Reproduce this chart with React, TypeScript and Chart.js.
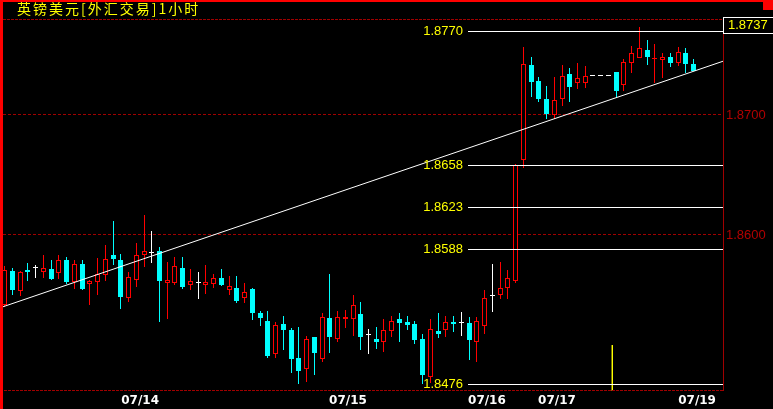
import React, { useEffect, useRef } from 'react';
import { Chart, registerables } from 'chart.js';

Chart.register(...registerables);

// ---------- data ----------
const titleText = '英镑美元[外汇交易]1小时';

const opens = [
  1.85417, 1.857, 1.85536, 1.85708, 1.85725, 1.85694, 1.85717, 1.85686, 1.85792, 1.85606,
  1.85758, 1.85588, 1.85611, 1.85664, 1.85833, 1.85792, 1.85473, 1.85623, 1.85831, 1.85848,
  1.85867, 1.85598, 1.85603, 1.85725, 1.85586, 1.856, 1.85586, 1.85594, 1.85642, 1.85544,
  1.85558, 1.85471, 1.8555, 1.8535, 1.85283, 1.85006, 1.85258, 1.85208, 1.84975, 1.84881,
  1.85148, 1.84969, 1.85306, 1.85131, 1.853, 1.85303, 1.85342, 1.85167, 1.85133, 1.85111,
  1.852, 1.85298, 1.85275, 1.85258, 1.85133, 1.84819, 1.852, 1.85206, 1.85278, 1.85267,
  1.85267, 1.85111, 1.85244, 1.85489, 1.85503, 1.85561, 1.85614, 1.86623, 1.87417, 1.87283,
  1.87133, 1.86998, 1.87131, 1.87342, 1.87264, 1.87269, 1.87323, 1.87323, 1.87323, 1.87358,
  1.8725, 1.87436, 1.87478, 1.87542, 1.87463, 1.87461, 1.87483, 1.87436, 1.87517, 1.87425,
];
const closes = [
  1.85708, 1.85542, 1.85692, 1.85692, 1.85725, 1.85722, 1.85633, 1.85792, 1.85606, 1.85756,
  1.8555, 1.85614, 1.85673, 1.858, 1.85796, 1.85486, 1.85648, 1.85831, 1.85864, 1.85848,
  1.85617, 1.85623, 1.85742, 1.85567, 1.85614, 1.856, 1.85608, 1.85642, 1.85583, 1.85575,
  1.8545, 1.85523, 1.8535, 1.85311, 1.84994, 1.8525, 1.85211, 1.84969, 1.84869, 1.85131,
  1.85019, 1.85314, 1.85153, 1.85314, 1.85317, 1.85417, 1.85153, 1.85167, 1.85111, 1.85206,
  1.85283, 1.85269, 1.85253, 1.85125, 1.84836, 1.85214, 1.85178, 1.85273, 1.85258, 1.85267,
  1.85128, 1.85283, 1.85478, 1.85489, 1.85558, 1.85642, 1.8658, 1.87425, 1.87278, 1.87136,
  1.87011, 1.87123, 1.87325, 1.87231, 1.87307, 1.87323, 1.87323, 1.87323, 1.87323, 1.87203,
  1.87442, 1.87514, 1.87556, 1.87483, 1.87475, 1.87483, 1.87436, 1.87525, 1.87425, 1.8737,
];
const highs = [
  1.85742, 1.85725, 1.857, 1.85767, 1.8575, 1.85833, 1.85792, 1.85833, 1.85817, 1.85792,
  1.85792, 1.85621, 1.85808, 1.85917, 1.86117, 1.85842, 1.85692, 1.85933, 1.86167, 1.86033,
  1.859, 1.85775, 1.85817, 1.85817, 1.85717, 1.85692, 1.8575, 1.85675, 1.85717, 1.85658,
  1.85658, 1.856, 1.85558, 1.85367, 1.85367, 1.85275, 1.85325, 1.85225, 1.85233, 1.85158,
  1.85148, 1.85348, 1.85675, 1.85367, 1.85373, 1.855, 1.85442, 1.85217, 1.85233, 1.853,
  1.85325, 1.8535, 1.85325, 1.85283, 1.85175, 1.853, 1.8535, 1.85325, 1.85325, 1.85358,
  1.85317, 1.85317, 1.85542, 1.85758, 1.85775, 1.85708, 1.86595, 1.87569, 1.87483, 1.87317,
  1.87242, 1.87317, 1.87417, 1.87392, 1.87433, 1.87408, 1.87323, 1.87323, 1.87323, 1.87358,
  1.87467, 1.87575, 1.87731, 1.87625, 1.87592, 1.87517, 1.87517, 1.87567, 1.87558, 1.87467,
];
const lows = [
  1.85396, 1.855, 1.85494, 1.85619, 1.85642, 1.85642, 1.85629, 1.85633, 1.85592, 1.8555,
  1.85542, 1.85419, 1.85503, 1.85619, 1.85754, 1.85386, 1.85444, 1.85569, 1.85736, 1.85769,
  1.85278, 1.853, 1.85586, 1.8555, 1.85544, 1.85469, 1.85511, 1.85558, 1.85575, 1.85496,
  1.85433, 1.85433, 1.85294, 1.85244, 1.84978, 1.84978, 1.85044, 1.84853, 1.8476, 1.84778,
  1.84836, 1.84944, 1.85019, 1.85108, 1.85225, 1.85161, 1.85042, 1.85008, 1.85048, 1.85028,
  1.85153, 1.85111, 1.85208, 1.85092, 1.84762, 1.84765, 1.85144, 1.85153, 1.85194, 1.85161,
  1.84958, 1.84944, 1.85178, 1.85361, 1.85464, 1.85469, 1.85603, 1.86556, 1.87148, 1.87108,
  1.86969, 1.86969, 1.87073, 1.87111, 1.87213, 1.87228, 1.87323, 1.87323, 1.87323, 1.87139,
  1.87203, 1.87353, 1.87475, 1.87417, 1.87264, 1.87306, 1.87403, 1.87411, 1.87348, 1.87368,
];

const dateLabels = ['07/14', '07/15', '07/16', '07/17', '07/19'];
const datePositions = [17.5, 44.35, 62.3, 71.35, 89.45];

const gridPrices = [1.86, 1.87];
const levelPrices = [1.877, 1.8658, 1.8623, 1.8588, 1.8476];

const trendX = [-0.22, 92.8];
const trendY = [1.85402, 1.87448];

const cursorX = [78.5, 78.5];
const cursorY = [1.85083, 1.847];

const xMin = -0.22;
const xMax = 92.8;
const yMin = 1.847;
const yMax = 1.878;

// ---------- styles ----------
const UP = '#ff0000';
const DOWN = '#00ffff';
const FLAT = '#ffffff';
const DARK_RED = '#a00000';
const NUM_FONT = '"Liberation Sans Narrow", "Liberation Sans", sans-serif';

export default function App() {
  const ref = useRef<HTMLCanvasElement>(null);

  useEffect(() => {
    document.body.style.margin = '0';
    document.body.style.background = '#000';
    const canvas = ref.current!;
    const idx = opens.map((_, i) => i);
    const colors = idx.map((i) =>
      closes[i] > opens[i] ? UP : closes[i] < opens[i] ? DOWN : FLAT
    );

    const decor = {
      id: 'decor',
      beforeDraw(chart: any) {
        const ctx = chart.ctx;
        ctx.save();
        ctx.fillStyle = '#000';
        ctx.fillRect(0, 0, chart.width, chart.height);
        ctx.restore();
      },
      beforeDatasetsDraw(chart: any) {
        chart.data.datasets.forEach((ds: any, di: number) => {
          if (ds.type !== 'bar') return;
          const meta = chart.getDatasetMeta(di);
          meta.data.forEach((el: any) => {
            el.x = Math.floor(el.x) + 0.5;
            const y = Math.round(el.y);
            let b = Math.round(el.base);
            if (y === b) b = y + 1;
            el.y = y;
            el.base = b;
          });
        });
      },
      afterDatasetsDraw(chart: any) {
        const ctx = chart.ctx;
        const ys = chart.scales.y;
        const area = chart.chartArea;
        ctx.save();
        ctx.lineWidth = 1;
        ctx.strokeStyle = '#ffffff';
        ctx.fillStyle = '#ffff00';
        ctx.font = '13px ' + NUM_FONT;
        ctx.textAlign = 'right';
        ctx.textBaseline = 'middle';
        levelPrices.forEach((p) => {
          const py = Math.round(ys.getPixelForValue(p)) + 0.5;
          ctx.beginPath();
          ctx.moveTo(468, py);
          ctx.lineTo(area.right, py);
          ctx.stroke();
          ctx.fillText(p.toFixed(4), 463, py);
        });
        ctx.restore();
      },
      afterDraw(chart: any) {
        const ctx = chart.ctx;
        const area = chart.chartArea;
        const W = chart.width;
        ctx.save();
        // plot frame (dark red)
        ctx.strokeStyle = DARK_RED;
        ctx.lineWidth = 1;
        ctx.setLineDash([3, 1]);
        ctx.beginPath();
        ctx.moveTo(area.left, area.top + 0.5);
        ctx.lineTo(area.right, area.top + 0.5);
        ctx.moveTo(0, area.bottom - 0.5);
        ctx.lineTo(area.right, area.bottom - 0.5);
        ctx.stroke();
        ctx.setLineDash([]);
        ctx.beginPath();
        ctx.moveTo(area.right + 0.5, area.top);
        ctx.lineTo(area.right + 0.5, area.bottom);
        ctx.stroke();

        // bright red outer frame
        ctx.fillStyle = '#ff0000';
        ctx.fillRect(0, 0, W, 2);
        ctx.fillRect(0, 0, 3, chart.height);
        ctx.fillRect(W - 10, 0, 10, 10);

        // title
        ctx.fillStyle = '#ffff00';
        ctx.font = '14px "Noto Sans CJK SC", sans-serif';
        (ctx as any).letterSpacing = '2px';
        ctx.textAlign = 'left';
        ctx.textBaseline = 'middle';
        ctx.fillText(titleText, 17, 8.5);
        (ctx as any).letterSpacing = '0px';

        // last price box
        const bx = area.right;
        ctx.strokeStyle = '#ffffff';
        ctx.beginPath();
        ctx.moveTo(bx, 17.5);
        ctx.lineTo(W, 17.5);
        ctx.moveTo(bx + 0.5, 17);
        ctx.lineTo(bx + 0.5, 34);
        ctx.moveTo(bx, 33.5);
        ctx.lineTo(W, 33.5);
        ctx.stroke();
        ctx.fillStyle = '#ffff00';
        ctx.font = '13px ' + NUM_FONT;
        ctx.textBaseline = 'middle';
        ctx.fillText(closes[closes.length - 1].toFixed(4), bx + 5, 25.5);
        ctx.restore();
      },
    };

    const chart = new Chart(canvas, {
      type: 'bar',
      data: {
        datasets: [
          {
            type: 'line',
            label: 'trend',
            data: trendX.map((x, k) => ({ x, y: trendY[k] })),
            borderColor: '#ffffff',
            borderWidth: 1,
            pointRadius: 0,
            order: -2,
          },
          {
            type: 'line',
            label: 'cursor',
            data: cursorX.map((x, k) => ({ x, y: cursorY[k] })),
            borderColor: '#ffff00',
            borderWidth: 1,
            pointRadius: 0,
            order: -1,
          },
          {
            type: 'bar',
            label: 'body',
            data: idx.map((i) => ({ x: i, y: [opens[i], closes[i]] })),
            backgroundColor: colors.map((c) => (c === UP ? '#000000' : c)),
            borderColor: colors,
            borderWidth: colors.map((c) => (c === UP ? 1 : 0)),
            borderSkipped: false,
            barThickness: 5,
            minBarLength: 1,
            grouped: false,
            inflateAmount: 0,
            order: 0,
          },
          {
            type: 'bar',
            label: 'wick',
            data: idx.map((i) => ({ x: i, y: [lows[i], highs[i]] })),
            backgroundColor: colors,
            borderWidth: 0,
            barThickness: 1,
            minBarLength: 1,
            grouped: false,
            inflateAmount: 0,
            order: 1,
          },
        ] as any,
      },
      options: {
        animation: false,
        responsive: false,
        devicePixelRatio: 1,
        layout: { padding: { top: 19, left: 3, right: 0, bottom: 0 } },
        plugins: { legend: { display: false }, tooltip: { enabled: false }, title: { display: false } },
        scales: {
          x: {
            type: 'linear',
            min: xMin,
            max: xMax,
            offset: false,
            position: 'bottom',
            afterBuildTicks: (s: any) => {
              s.ticks = datePositions.map((v) => ({ value: v }));
            },
            afterFit: (s: any) => {
              s.height = 18;
            },
            grid: { display: false, drawTicks: false },
            border: { display: false },
            ticks: {
              color: '#ffffff',
              font: { family: '"DejaVu Sans", sans-serif', weight: 'bold', size: 12 },
              padding: 3,
              autoSkip: false,
              maxRotation: 0,
              callback: (_v: any, i: number) => dateLabels[i],
            },
          },
          y: {
            type: 'linear',
            position: 'right',
            min: yMin,
            max: yMax,
            afterBuildTicks: (s: any) => {
              s.ticks = gridPrices.map((v) => ({ value: v }));
            },
            afterFit: (s: any) => {
              s.width = 50;
            },
            grid: { color: DARK_RED, lineWidth: 1, drawTicks: false },
            border: { display: false, dash: [3, 2] },
            ticks: {
              color: '#b00000',
              font: { family: NUM_FONT, size: 13 },
              padding: 3,
              callback: (v: any) => Number(v).toFixed(4),
            },
          },
        },
      } as any,
      plugins: [decor],
    });

    return () => chart.destroy();
  }, []);

  return (
    <div style={{ width: 773, height: 409, background: '#000', overflow: 'hidden' }}>
      <canvas ref={ref} width={773} height={409} style={{ display: 'block' }} />
    </div>
  );
}
